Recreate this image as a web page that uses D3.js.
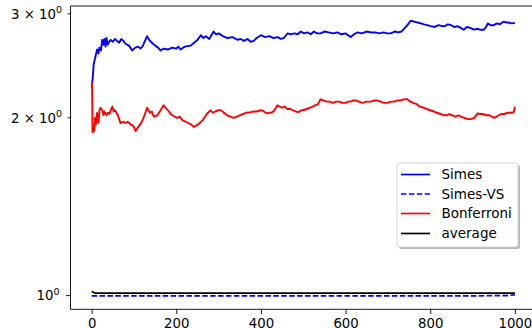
<!DOCTYPE html>
<html><head><meta charset="utf-8">
<script src="https://cdn.jsdelivr.net/npm/d3@7"></script>
<style>
html,body{margin:0;padding:0;background:#fff;}
svg{display:block;font-family:"DejaVu Sans",sans-serif;}
</style></head>
<body>
<script>
// ---- data ----
const simesT = [0,2,5,8,10,13,16,18,22,25,28,30,33,35,38,40,45,50,55,60,65,70,75,80,88,96,103,110,115,120,126,131,136,140,145,150,157,163,170,180,190,200,205,210,220,234,242,250,258,264,270,278,288,294,300,310,321,333,345,352,360,368,376,383,390,400,410,420,430,440,447,454,463,470,480,487,494,502,510,518,525,533,541,550,560,570,581,590,600,606,612,620,628,638,650,660,670,680,690,698,707,716,725,732,738,746,754,762,770,778,785,793,801,810,820,828,835,842,849,857,865,872,879,887,895,903,910,918,927,932,936,943,950,958,965,970,974,980,985,992,1000];
const simesV = [2.25,2.31,2.47,2.52,2.56,2.61,2.57,2.63,2.60,2.71,2.66,2.72,2.64,2.73,2.66,2.68,2.71,2.69,2.72,2.70,2.68,2.72,2.70,2.67,2.65,2.60,2.63,2.64,2.62,2.64,2.70,2.75,2.71,2.69,2.67,2.65,2.63,2.60,2.62,2.61,2.63,2.62,2.64,2.61,2.64,2.65,2.68,2.71,2.76,2.73,2.75,2.72,2.80,2.77,2.78,2.75,2.73,2.74,2.71,2.72,2.70,2.72,2.69,2.70,2.73,2.76,2.74,2.75,2.73,2.74,2.72,2.73,2.78,2.77,2.78,2.77,2.80,2.78,2.79,2.77,2.80,2.78,2.78,2.80,2.79,2.78,2.79,2.77,2.78,2.76,2.74,2.77,2.79,2.78,2.80,2.79,2.79,2.78,2.79,2.78,2.78,2.80,2.79,2.80,2.83,2.87,2.92,2.91,2.90,2.89,2.88,2.87,2.86,2.85,2.87,2.86,2.86,2.88,2.87,2.85,2.86,2.84,2.82,2.85,2.84,2.82,2.83,2.82,2.82,2.85,2.89,2.87,2.87,2.89,2.88,2.90,2.91,2.90,2.90,2.89,2.895];

const bonfT = [0,1,2,4,6,8,10,13,16,19,21,25,28,30,35,38,42,45,49,52,55,62,68,75,80,85,92,98,104,110,115,120,126,131,138,142,147,155,163,170,175,180,190,202,208,215,222,228,235,241,252,262,272,281,286,292,300,305,313,320,328,336,343,350,358,365,376,383,390,400,407,414,420,425,432,439,450,456,462,470,475,482,489,495,500,508,515,522,528,535,541,548,555,562,570,578,585,592,600,606,612,618,625,632,640,650,660,668,675,683,690,699,707,715,722,730,738,746,753,760,768,775,785,792,800,808,815,825,833,840,845,852,860,867,873,880,885,890,896,904,912,918,925,933,940,946,951,957,962,968,975,983,990,995,998,1000];
const bonfV = [2.30,2.28,1.89,1.94,1.90,2.00,1.95,2.04,1.96,2.07,2.08,2.06,2.02,2.05,2.02,2.04,2.03,2.06,2.09,2.05,2.06,2.02,1.96,1.97,1.96,1.97,1.95,1.94,1.90,1.93,1.95,1.98,2.03,2.08,2.04,2.05,2.01,2.02,2.06,2.10,2.08,2.06,2.02,2.00,2.01,1.98,1.97,1.96,1.95,1.93,1.95,1.98,2.03,2.06,2.04,2.05,2.06,2.06,2.04,2.02,2.01,2.00,2.01,2.02,2.03,2.04,2.045,2.05,2.05,2.06,2.05,2.035,2.04,2.04,2.06,2.10,2.08,2.09,2.07,2.07,2.06,2.05,2.045,2.06,2.06,2.07,2.08,2.09,2.10,2.11,2.15,2.14,2.13,2.13,2.12,2.13,2.13,2.12,2.12,2.13,2.13,2.14,2.14,2.13,2.12,2.13,2.13,2.14,2.14,2.13,2.12,2.12,2.13,2.13,2.14,2.14,2.15,2.15,2.13,2.12,2.11,2.09,2.08,2.07,2.06,2.05,2.04,2.03,2.02,2.02,2.03,2.02,2.01,2.02,2.01,2.00,1.995,1.99,1.99,2.00,2.035,2.03,2.03,2.02,2.02,2.01,2.00,2.01,2.02,2.03,2.03,2.04,2.04,2.04,2.05,2.09];

const vsT = [0,100,200,300,400,500,600,700,800,900,980,1000];
const vsV = [0.999,0.999,0.999,0.999,0.999,0.999,0.999,0.999,0.999,0.999,1.000,1.003];

const avgT = [0,3,6,10,20,1000];
const avgV = [1.016,1.014,1.011,1.010,1.010,1.010];

const xTicks = [0,200,400,600,800,1000];
const yTicks = [{v:1, m:"", major:true},{v:2, m:"2 \u00d7 ", major:false},{v:3, m:"3 \u00d7 ", major:false}];
const seriesNames = ["Simes","Simes-VS","Bonferroni","average"];
const seriesColors = ["#0000ff","#0000ff","#ff0000","#000000"];
const seriesDash = [null,"5.5,2.4",null,null];
const seriesWidth = [1.9,1.7,1.9,1.7];

// ---- layout ----
const W = 532, H = 328;
const svg = d3.select("body").append("svg").attr("width",W).attr("height",H);
const pL = 70.5, pR = 536, pT = 6, pB = 309.3;
const x = d3.scaleLinear().domain([-50,1050]).range([pL,pR]);
const y = d3.scaleLog().domain([0.948,3.093]).range([pB,pT]);

const plot = svg.append("g");
plot.append("defs").append("clipPath").attr("id","clip").append("rect")
  .attr("x",pL).attr("y",pT).attr("width",pR-pL).attr("height",pB-pT);

const line = d3.line().x(d=>x(d[0])).y(d=>y(d[1]));
const data = [
  d3.zip(simesT,simesV),
  d3.zip(vsT,vsV),
  d3.zip(bonfT,bonfV),
  d3.zip(avgT,avgV)
];
data.forEach((d,i)=>{
  plot.append("path").attr("d",line(d)).attr("fill","none")
    .attr("stroke",seriesColors[i]).attr("stroke-width",seriesWidth[i])
    .attr("stroke-dasharray",seriesDash[i])
    .attr("stroke-linejoin","round")
    .attr("clip-path","url(#clip)");
});

// spines
const sp = svg.append("g").attr("stroke","#000").attr("stroke-width",0.9).attr("fill","none");
sp.append("line").attr("x1",pL).attr("x2",pL).attr("y1",pT).attr("y2",pB);
sp.append("line").attr("x1",pL).attr("x2",W+5).attr("y1",pT).attr("y2",pT);
sp.append("line").attr("x1",pL).attr("x2",W+5).attr("y1",pB).attr("y2",pB);

// x axis
const xa = svg.append("g").attr("transform",`translate(0,${pB})`)
  .call(d3.axisBottom(x).tickValues(xTicks).tickSize(4.7).tickPadding(4.5).tickFormat(d3.format("d")));
xa.select(".domain").remove();
xa.selectAll("line").attr("stroke","#000").attr("stroke-width",0.9);
xa.selectAll("text").attr("font-size","13.3px").attr("font-family","DejaVu Sans").attr("fill","#000");

// y axis (log, matplotlib style labels)
const ya = svg.append("g");
yTicks.forEach(t=>{
  const yy = y(t.v);
  const tl = t.major ? 4.7 : 3;
  ya.append("line").attr("x1",pL-tl).attr("x2",pL).attr("y1",yy).attr("y2",yy)
    .attr("stroke","#000").attr("stroke-width",0.9);
  const txt = ya.append("text").attr("x", t.major ? 59.5 : 62).attr("y",yy+4.8)
    .attr("text-anchor","end").attr("font-size","13.3px").attr("fill","#000");
  txt.append("tspan").text(t.m + "10");
  txt.append("tspan").attr("dy",-5.5).attr("font-size","9.5px").text("0");
});

// legend
const lg = svg.append("g");
lg.append("rect").attr("x",399).attr("y",165).attr("width",121).attr("height",84)
  .attr("rx",2.5).attr("fill","#7f7f7f").attr("opacity",0.55);
lg.append("rect").attr("x",397).attr("y",163).attr("width",121).attr("height",84)
  .attr("rx",2.5).attr("fill","#fff").attr("stroke","#d0d0d0").attr("stroke-width",0.9);
const ly = [174.5,194,213.5,233.5];
seriesNames.forEach((n,i)=>{
  lg.append("line").attr("x1",401).attr("x2",430).attr("y1",ly[i]).attr("y2",ly[i])
    .attr("stroke",seriesColors[i]).attr("stroke-width",1.7).attr("stroke-dasharray",seriesDash[i]);
  lg.append("text").attr("x",441.5).attr("y",ly[i]+4.8).attr("font-size","13.5px").attr("fill","#000").text(n);
});
</script>
</body></html>
